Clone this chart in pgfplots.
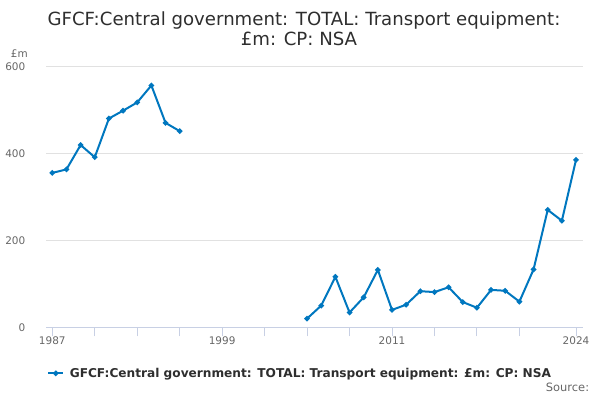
\documentclass[border=0pt]{standalone}
\usepackage{fontspec}
\setmainfont{DejaVu Sans}
\usepackage{pgfplots}
\pgfplotsset{compat=1.18}
\definecolor{linec}{HTML}{0077BF}
\definecolor{gridc}{HTML}{E1E1E1}
\definecolor{axc}{HTML}{C8D0E4}
\definecolor{labc}{HTML}{666666}
\definecolor{titc}{HTML}{2E2E2E}
\begin{document}
\begin{tikzpicture}[x=1bp,y=1bp]
\path[use as bounding box] (0,0) rectangle (600,400);
\node[anchor=base, font=\fontsize{18.2}{21}\selectfont, text=titc] at (304,375) {GFCF:Central government: TOTAL: Transport equipment:};
\node[anchor=base, font=\fontsize{18.2}{21}\selectfont, text=titc] at (299,354.3) {£m: CP: NSA};
\node[anchor=base west, inner sep=0pt, font=\fontsize{10.5}{12}\selectfont, text=labc] at (10.7,343) {£m};
\node[anchor=base east, inner sep=0pt, font=\fontsize{11.5}{13}\selectfont, text=labc] at (589.3,8.3) {Source:};
\begin{axis}[
  at={(46bp,72.7bp)}, anchor=south west,
  scale only axis, width=537bp, height=261bp,
  xmin=1986.555, xmax=2024.495, ymin=0, ymax=600,
  axis x line=bottom, axis y line=left,
  axis line style={-},
  y axis line style={draw=none},
  x axis line style={draw=axc, line width=1bp},
  ytick={0,200,400,600},
  ymajorgrids, grid style={draw=gridc, line width=0.8bp},
  ytick style={draw=none},
  xtick={1987,1990,1993,1996,1999,2002,2005,2008,2011,2014,2017,2020,2024},
  xticklabels={1987,,,,1999,,,,2011,,,,2024},
  xtick style={draw=axc, line width=1bp},
  xtick align=outside, major tick length=9bp,
  tick label style={font=\fontsize{10.5}{12}\selectfont, text=labc},
  /pgf/number format/assume math mode=true,
  yticklabel style={inner sep=0pt, anchor=east, xshift=-16bp},
  xticklabel style={inner sep=0pt, anchor=north},
  unbounded coords=jump,
  legend style={draw=none, fill=none, inner sep=0pt, outer sep=0pt,
    at={(0,0)}, anchor=west, xshift=1.3bp, yshift=-46bp, column sep=3.5bp,
    font=\bfseries\fontsize{12.2}{14}\selectfont, text=titc},
  legend cell align=left,
  legend image code/.code={\draw[mark repeat=2,mark phase=2,#1] plot coordinates {(0bp,0bp)(7.5bp,0bp)(15bp,0bp)};},
]
\addplot[linec, line width=2bp, mark=*, mark size=1.6bp, mark options={solid}] coordinates {
(1987,355)(1988,363)(1989,419)(1990,391)(1991,480)(1992,498)(1993,517)(1994,556)(1995,470)(1996,451)
(2000,nan)
(2005,20)(2006,50)(2007,116)(2008,34)(2009,69)(2010,132)(2011,40)(2012,52)(2013,83)(2014,81)
(2015,92)(2016,58)(2017,45)(2018,86)(2019,84)(2020,59)(2021,133)(2022,270)(2023,245)(2024,385)
};
\addlegendentry{GFCF:Central government: TOTAL: Transport equipment: £m: CP: NSA}
\end{axis}
\end{tikzpicture}
\end{document}
